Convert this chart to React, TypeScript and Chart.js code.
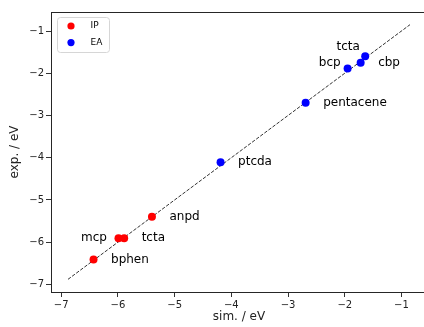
import React, { useEffect, useRef } from "react";
import { Chart, registerables } from "chart.js";

Chart.register(...registerables);

// ---- data ----
const ipNames = ["bphen", "mcp", "tcta", "anpd"];
const ipSim = [-6.43, -5.99, -5.89, -5.4];
const ipExp = [-6.41, -5.91, -5.91, -5.4];

const eaNames = ["ptcda", "pentacene", "bcp", "cbp", "tcta"];
const eaSim = [-4.19, -2.69, -1.95, -1.72, -1.64];
const eaExp = [-4.11, -2.7, -1.89, -1.75, -1.6];

const diagX = [-6.88, -0.85];
const xTicks = [-7, -6, -5, -4, -3, -2, -1];
const yTicks = [-7, -6, -5, -4, -3, -2, -1];

// label placement styles (pixel offsets from each point)
const ipLabelStyle: [number, number, CanvasTextAlign][] = [
  [17.5, 0, "left"],
  [-11.5, -0.5, "right"],
  [17.5, -0.5, "left"],
  [17.5, 0, "left"],
];
const eaLabelStyle: [number, number, CanvasTextAlign][] = [
  [17.5, 0, "left"],
  [17.5, 0, "left"],
  [-7, -5.5, "right"],
  [17.5, 0, "left"],
  [-17, -9.5, "center"],
];

const FONT = "'DejaVu Sans', sans-serif";
const fmt = (v: number) => String(v).replace("-", "\u2212");

const labelsPlugin = {
  id: "pointLabels",
  afterDatasetsDraw(chart: any) {
    const { ctx, scales } = chart;
    const xs = scales.x;
    const ys = scales.y;
    ctx.save();
    ctx.font = `12px ${FONT}`;
    ctx.fillStyle = "#000";
    ctx.textBaseline = "middle";
    const draw = (names: string[], sx: number[], sy: number[], st: [number, number, CanvasTextAlign][]) => {
      names.forEach((n, i) => {
        const px = xs.getPixelForValue(sx[i]);
        const py = ys.getPixelForValue(sy[i]);
        ctx.textAlign = st[i][2];
        ctx.fillText(n, px + st[i][0], py + st[i][1]);
      });
    };
    draw(ipNames, ipSim, ipExp, ipLabelStyle);
    draw(eaNames, eaSim, eaExp, eaLabelStyle);
    ctx.restore();
  },
  afterDraw(chart: any) {
    const { ctx, chartArea } = chart;
    const { left, top, right, bottom } = chartArea;
    ctx.save();
    // spines
    ctx.strokeStyle = "#262626";
    ctx.lineWidth = 1;
    ctx.strokeRect(Math.round(left) + 0.5, Math.round(top) + 0.5, Math.round(right - left), Math.round(bottom - top));
    // legend
    const lx = left + 6;
    const ly = top + 5;
    const lw = 52;
    const lh = 35;
    ctx.beginPath();
    (ctx as any).roundRect(lx + 0.5, ly + 0.5, lw, lh, 3);
    ctx.fillStyle = "rgba(255,255,255,0.8)";
    ctx.fill();
    ctx.strokeStyle = "#d6d6d6";
    ctx.stroke();
    const items: [string, string][] = [
      ["IP", "#ff0000"],
      ["EA", "#0000ff"],
    ];
    items.forEach(([t, c], i) => {
      const cy = ly + 9 + i * 16.6;
      ctx.beginPath();
      ctx.arc(lx + 14, cy, 3.6, 0, Math.PI * 2);
      ctx.fillStyle = c;
      ctx.fill();
      ctx.fillStyle = "#000";
      ctx.font = `9px ${FONT}`;
      ctx.textAlign = "left";
      ctx.textBaseline = "middle";
      ctx.fillText(t, lx + 33.5, cy);
    });
    ctx.restore();
  },
};

export default function App() {
  const ref = useRef<HTMLCanvasElement>(null);
  useEffect(() => {
    if (!ref.current) return;
    const tickFont = { family: FONT, size: 10 };
    const chart = new Chart(ref.current, {
      type: "scatter",
      data: {
        datasets: [
          {
            label: "IP",
            data: ipSim.map((x, i) => ({ x, y: ipExp[i] })),
            backgroundColor: "#ff0000",
            borderColor: "#ff0000",
            pointRadius: 4,
            pointBorderWidth: 0,
          },
          {
            label: "EA",
            data: eaSim.map((x, i) => ({ x, y: eaExp[i] })),
            backgroundColor: "#0000ff",
            borderColor: "#0000ff",
            pointRadius: 4,
            pointBorderWidth: 0,
          },
          {
            type: "line",
            label: "diag",
            data: diagX.map((x) => ({ x, y: x })),
            borderColor: "#333333",
            borderWidth: 1,
            borderDash: [3.5, 1.6],
            pointRadius: 0,
            showLine: true,
            fill: false,
          } as any,
        ],
      },
      options: {
        responsive: false,
        animation: false,
        events: [],
        layout: { padding: { top: 12, right: 5, left: 0, bottom: 0 } },
        plugins: { legend: { display: false }, tooltip: { enabled: false } },
        scales: {
          x: {
            type: "linear",
            min: -7.18,
            max: -0.55,
            afterFit: (s: any) => {
              s.height = 35;
            },
            afterBuildTicks: (s: any) => {
              s.ticks = xTicks.map((v) => ({ value: v }));
            },
            ticks: {
              font: tickFont,
              color: "#222",
              padding: 2,
              maxRotation: 0,
              callback: (v: any) => fmt(v),
            },
            grid: {
              drawOnChartArea: false,
              drawTicks: true,
              tickLength: 5,
              color: "#333",
            },
            border: { display: false },
            title: {
              display: true,
              text: "sim. / eV",
              font: { family: FONT, size: 12 },
              color: "#222",
              padding: { top: 0, bottom: 3 },
            },
          },
          y: {
            type: "linear",
            min: -7.18,
            max: -0.55,
            afterFit: (s: any) => {
              s.width = 51;
            },
            afterBuildTicks: (s: any) => {
              s.ticks = yTicks.map((v) => ({ value: v }));
            },
            ticks: {
              font: tickFont,
              color: "#222",
              padding: 2,
              callback: (v: any) => fmt(v),
            },
            grid: {
              drawOnChartArea: false,
              drawTicks: true,
              tickLength: 5,
              color: "#333",
            },
            border: { display: false },
            title: {
              display: true,
              text: "exp. / eV",
              font: { family: FONT, size: 12 },
              color: "#222",
              padding: { top: 8, bottom: 0 },
            },
          },
        },
      },
      plugins: [labelsPlugin],
    });
    return () => chart.destroy();
  }, []);

  return (
    <div style={{ position: "fixed", left: 0, top: 0, width: 424, height: 327, overflow: "hidden", background: "#fff" }}>
      <canvas ref={ref} width={432} height={327} style={{ display: "block" }} />
    </div>
  );
}
